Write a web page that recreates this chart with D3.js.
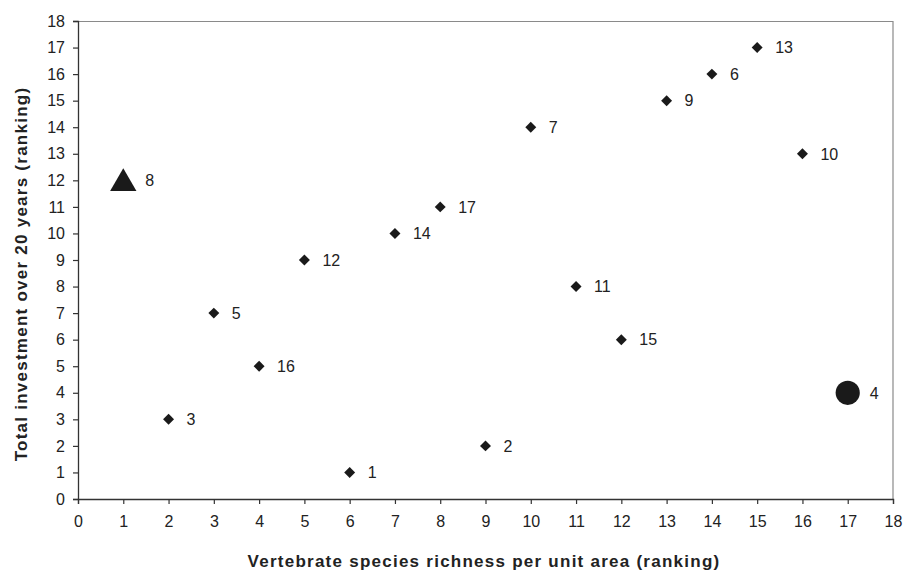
<!DOCTYPE html>
<html>
<head>
<meta charset="utf-8">
<script src="https://cdn.jsdelivr.net/npm/d3@7"></script>
<style>
  body { margin: 0; background: #fff; }
  svg text { font-family: "Liberation Sans", Arial, sans-serif; fill: #222; }
</style>
</head>
<body>
<svg width="905" height="572"></svg>
<script>
// ranking of each site on the two criteria
const siteIds    = ['1','2','3','4','5','6','7','8','9','10','11','12','13','14','15','16','17'];
const richness   = [6, 9, 2, 17, 3, 14, 10, 1, 13, 16, 11, 5, 15, 7, 12, 4, 8];
const investment = [1, 2, 3, 4, 7, 16, 14, 12, 15, 13, 8, 9, 17, 10, 6, 5, 11];
const markerType = ['diamond','diamond','diamond','circle','diamond','diamond','diamond','triangle','diamond','diamond','diamond','diamond','diamond','diamond','diamond','diamond','diamond'];
const tickValues = d3.range(0, 19);

const svg = d3.select('svg');
const margin = {left: 78, top: 21, right: 12, bottom: 73};
const w = 905 - margin.left - margin.right;
const h = 572 - margin.top - margin.bottom;

const x = d3.scaleLinear().domain([0, 18]).range([0, w]);
const y = d3.scaleLinear().domain([0, 18]).range([h, 0]);

const g = svg.append('g').attr('transform', `translate(${margin.left},${margin.top})`);

// gray frame on top / right
g.append('path')
    .attr('d', `M0,0.5H${w}V${h}`)
    .attr('fill', 'none')
    .attr('stroke', '#8a8a8a')
    .attr('stroke-width', 1.2);

const xAxis = g.append('g')
    .attr('transform', `translate(0,${h})`)
    .call(d3.axisBottom(x).tickValues(tickValues).tickSize(5).tickPadding(12).tickFormat(d3.format('d')));
const yAxis = g.append('g')
    .call(d3.axisLeft(y).tickValues(tickValues).tickSize(5).tickPadding(8).tickFormat(d3.format('d')));

[xAxis, yAxis].forEach(a => {
    a.select('.domain').attr('stroke', '#333').attr('stroke-width', 1.3);
    a.selectAll('.tick line').attr('stroke', '#333').attr('stroke-width', 1.2);
    a.selectAll('.tick text').attr('font-size', 16).attr('fill', '#222')
        .style('font-family', '"Liberation Sans", Arial, sans-serif');
});

const points = siteIds.map((id, i) => ({id, x: richness[i], y: investment[i], type: markerType[i]}));

const symbolFor = {
    diamond: d3.symbol().type(d3.symbolSquare).size(60),
    circle: d3.symbol().type(d3.symbolCircle).size(460),
    triangle: d3.symbol().type(d3.symbolTriangle).size(300)
};

g.selectAll('.mark')
    .data(points)
    .enter()
    .append('path')
    .attr('class', 'mark')
    .attr('d', d => symbolFor[d.type]())
    .attr('transform', d => {
        const rot = d.type === 'diamond' ? ' rotate(45)' : '';
        const dy = d.type === 'triangle' ? 3 : 0;
        return `translate(${x(d.x)},${y(d.y) + dy})${rot}`;
    })
    .attr('fill', '#1a1a1a');

g.selectAll('.lbl')
    .data(points)
    .enter()
    .append('text')
    .attr('class', 'lbl')
    .attr('x', d => x(d.x) + (d.type === 'diamond' ? 18 : 22))
    .attr('y', d => y(d.y))
    .attr('dy', '0.36em')
    .attr('font-size', 16)
    .text(d => d.id);

svg.append('text')
    .attr('x', 484)
    .attr('y', 567)
    .attr('text-anchor', 'middle')
    .attr('font-size', 17)
    .attr('font-weight', 'bold')
    .style('letter-spacing', '1.25px')
    .text('Vertebrate species richness per unit area (ranking)');

svg.append('text')
    .attr('transform', `translate(27,274) rotate(-90)`)
    .attr('text-anchor', 'middle')
    .attr('font-size', 17)
    .attr('font-weight', 'bold')
    .style('letter-spacing', '1.25px')
    .text('Total investment over 20 years (ranking)');
</script>
</body>
</html>
